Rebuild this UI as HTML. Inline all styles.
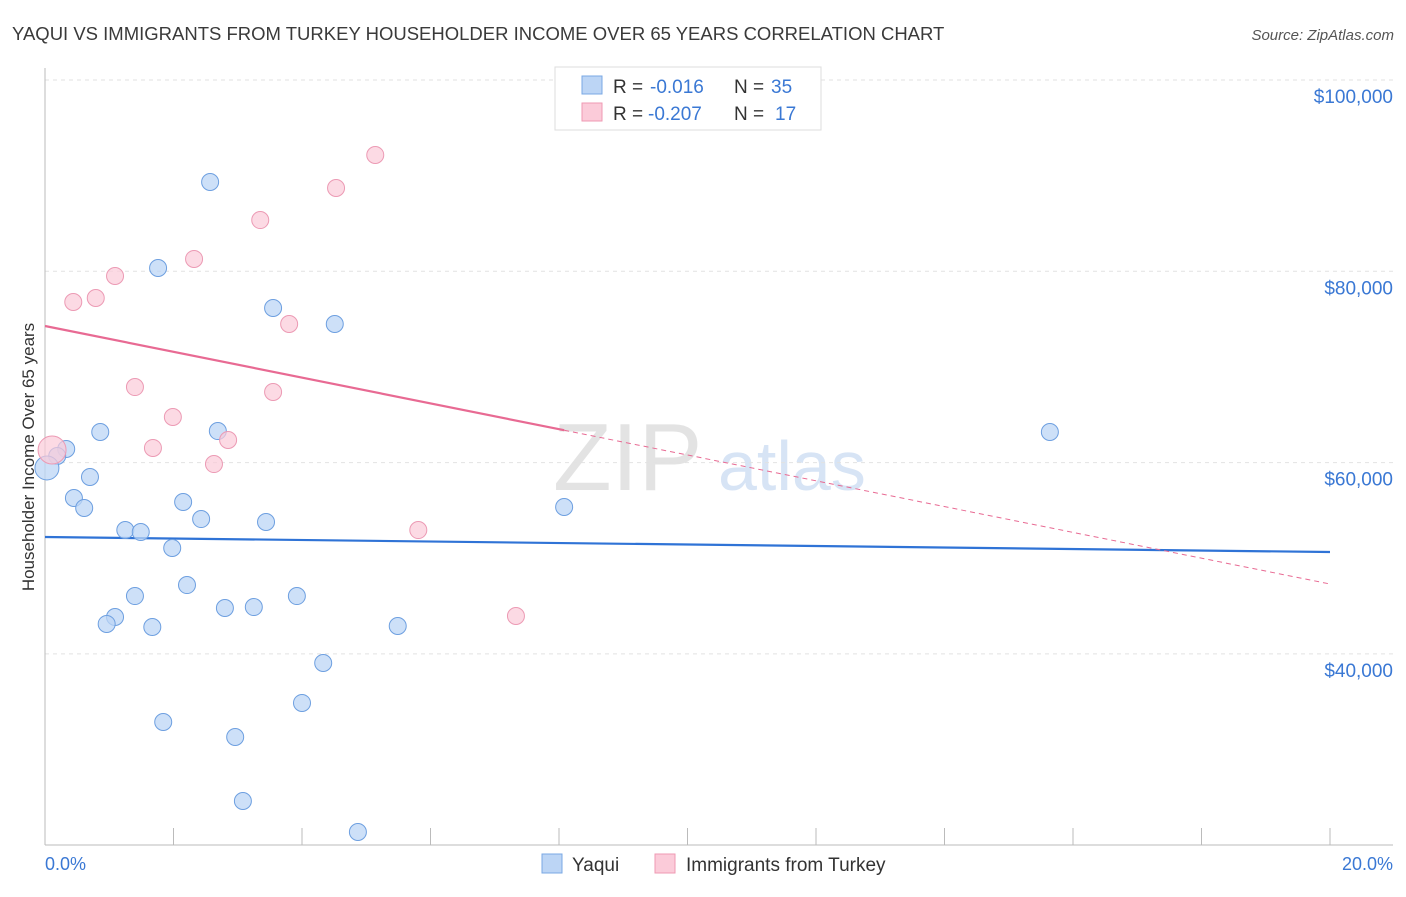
<!DOCTYPE html>
<html><head><meta charset="utf-8"><style>
body{margin:0;background:#fff;font-family:"Liberation Sans",sans-serif;}
svg text{font-family:"Liberation Sans",sans-serif;}
</style></head><body>
<svg id="chart" width="1406" height="892" xmlns="http://www.w3.org/2000/svg">
<text x="12" y="40" font-size="18.5" fill="#3a3a3a">YAQUI VS IMMIGRANTS FROM TURKEY HOUSEHOLDER INCOME OVER 65 YEARS CORRELATION CHART</text>
<text x="1394" y="40" font-size="15" fill="#555" text-anchor="end" font-style="italic">Source: ZipAtlas.com</text>
<g><text x="553" y="490" font-size="96" fill="#ddd" font-family="Liberation Serif" opacity="0.8">ZIP</text><text x="718" y="490" font-size="70" fill="#c7d9f2" opacity="0.7">atlas</text></g>
<g id="grid"></g><g id="axes"></g><g id="lines"></g><g id="points"></g>
<text transform="translate(34,457) rotate(-90)" font-size="17" fill="#333" text-anchor="middle">Householder Income Over 65 years</text>
<text x="45" y="870" font-size="18" fill="#3a78d4">0.0%</text>
<text x="1393" y="870" font-size="18" fill="#3a78d4" text-anchor="end">20.0%</text>
<g>
<rect x="555" y="67" width="266" height="63" fill="#fff" stroke="#ddd"/>
<rect x="582" y="76" width="20" height="18" fill="#bcd5f5" stroke="#7aa8e4"/>
<rect x="582" y="103" width="20" height="18" fill="#fbcbd9" stroke="#ef9ab3"/>
<text x="613" y="93" font-size="19" fill="#333">R =</text>
<text x="650" y="93" font-size="19" fill="#3a78d4">-0.016</text>
<text x="734" y="93" font-size="19" fill="#333">N =</text>
<text x="771" y="93" font-size="19" fill="#3a78d4">35</text>
<text x="613" y="120" font-size="19" fill="#333">R =</text>
<text x="648" y="120" font-size="19" fill="#3a78d4">-0.207</text>
<text x="734" y="120" font-size="19" fill="#333">N =</text>
<text x="775" y="120" font-size="19" fill="#3a78d4">17</text>
</g>
<g>
<rect x="542" y="854" width="20" height="19" fill="#bcd5f5" stroke="#7aa8e4"/>
<text x="572" y="871" font-size="19" fill="#333">Yaqui</text>
<rect x="655" y="854" width="20" height="19" fill="#fbcbd9" stroke="#ef9ab3"/>
<text x="686" y="871" font-size="19" fill="#333">Immigrants from Turkey</text>
</g>
</svg>
<script>
const yTicks=[40000,60000,80000,100000];
const yTickLabels=["$40,000","$60,000","$80,000","$100,000"];
const blueX=[2.57,1.76,3.55,4.51,0.86,2.69,0.33,0.19,0.03,0.70,0.45,0.61,2.15,2.43,3.44,1.25,1.49,1.98,8.08,15.64,1.40,2.21,1.09,0.96,1.67,2.80,3.25,3.92,5.49,4.33,1.84,4.00,2.96,3.08,4.87];
const blueY=[89336,80345,76163,74490,63198,63300,61421,60690,59440,58494,56298,55253,55880,54100,53790,52950,52740,51070,55360,63200,46050,47200,43860,43130,42810,44800,44900,46050,42920,39050,32880,34870,31310,24620,21380];
const pinkX=[5.14,4.53,3.35,2.32,1.09,0.79,0.44,3.80,1.40,3.55,1.99,1.68,2.85,2.63,5.81,7.33,0.11];
const pinkY=[92160,88710,85360,81290,79510,77210,76790,74490,67900,67380,64770,61530,62360,59850,52950,43960,61320];
const blueTrend=[52220,50650];
const pinkTrend=[74280,47310];
const pinkSolidEnd=8.08;
const NS="http://www.w3.org/2000/svg";
const xs=v=>45+v/20*1285;
const ys=v=>80+(100000-v)/20000*191.3;
function mk(tag,attrs,parent){const e=document.createElementNS(NS,tag);for(const k in attrs)e.setAttribute(k,attrs[k]);document.getElementById(parent).appendChild(e);return e;}
yTicks.forEach((t,i)=>{
 const g=mk('line',{x1:45,x2:1393,y1:ys(t),y2:ys(t),stroke:'#e2e2e2','stroke-dasharray':'4,4'},'grid');
 
 
 const l=mk('text',{x:1393,y:ys(t)+23,'font-size':19,fill:'#3a78d4','text-anchor':'end'},'grid');
 l.textContent=yTickLabels[i];
 
 
});
const topGrid=mk('line',{x1:45,x2:1393,y1:80,y2:80,stroke:'#e2e2e2','stroke-dasharray':'4,4'},'grid');


const ya=mk('line',{x1:45,x2:45,y1:68,y2:845,stroke:'#bbb'},'axes');


const xa=mk('line',{x1:45,x2:1393,y1:845,y2:845,stroke:'#bbb'},'axes');


for(let i=0;i<=10;i++){const t=mk('line',{x1:xs(i*2),x2:xs(i*2),y1:828,y2:845,stroke:'#bbb'},'axes');
 
 }
const bl=mk('line',{x1:xs(0),x2:xs(20),y1:ys(blueTrend[0]),y2:ys(blueTrend[1]),stroke:'#2f73d6','stroke-width':2.2},'lines');


const pAt=x=>pinkTrend[0]+(pinkTrend[1]-pinkTrend[0])*x/20;
const ps=mk('line',{x1:xs(0),x2:xs(pinkSolidEnd),y1:ys(pinkTrend[0]),y2:ys(pAt(pinkSolidEnd)),stroke:'#e86a93','stroke-width':2.2},'lines');


const pd=mk('line',{x1:xs(pinkSolidEnd),x2:xs(20),y1:ys(pAt(pinkSolidEnd)),y2:ys(pinkTrend[1]),stroke:'#e86a93','stroke-width':1,'stroke-dasharray':'5,4'},'lines');


blueX.forEach((x,i)=>{const c=mk('circle',{cx:xs(x),cy:ys(blueY[i]),r:i==8?12:8.5,fill:'#bcd5f5','fill-opacity':0.75,stroke:'#6d9fe0','stroke-width':1},'points');
 
 });
pinkX.forEach((x,i)=>{const c=mk('circle',{cx:xs(x),cy:ys(pinkY[i]),r:i==16?14:8.5,fill:'#fbcbd9','fill-opacity':0.7,stroke:'#ec9ab4','stroke-width':1},'points');
 
 });
</script>
</body></html>
